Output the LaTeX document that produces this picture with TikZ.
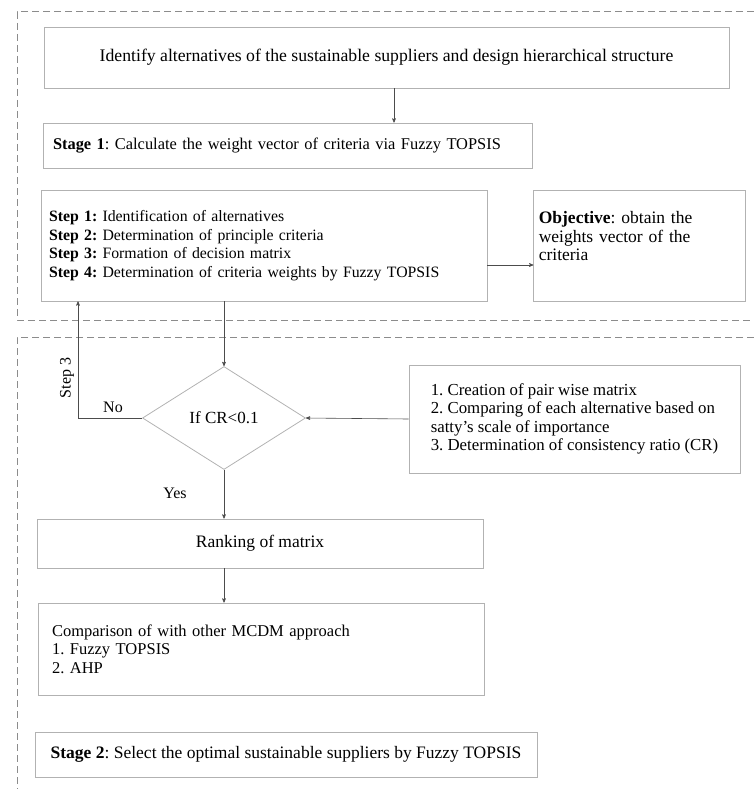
\documentclass[tikz,border=0pt]{standalone}
\usepackage{fontspec}
\setmainfont{Liberation Serif}
\frenchspacing
\usetikzlibrary{arrows,positioning,shapes.geometric}
\tikzset{
    %Define standard arrow tip
    >=stealth',
    %Define style for boxes
    stepbox/.style={
           rectangle,
           draw=black!30, line width=0.8pt,
           font=\fontsize{16}{18.5}\selectfont,
           inner ysep=0pt},
    leftbox/.style={
           stepbox,
           align=left},
    decision/.style={
           diamond,
           draw=black!30, line width=0.8pt,
           inner sep=0pt,
           font=\fontsize{17}{18.5}\selectfont},
    % Define font sizes
    large text/.style={font=\fontsize{17.7}{18.5}\selectfont},
    mid text/.style={font=\fontsize{17.5}{18.5}\selectfont},
    % Define style for the dashed stage frames
    frame/.style={
           draw=black!45, dashed,
           dash pattern=on 7pt off 4pt,
           line width=1pt},
    % Define arrow style
    pil/.style={
           ->,
           draw=black!70,
           line width=0.6pt},
    lbl/.style={
           font=\fontsize{16}{18.5}\selectfont}
}
\begin{document}
\begin{tikzpicture}[x=1pt,y=-1pt]
\useasboundingbox (0,0) rectangle (754,789);

% stage frames
\draw[frame] (754,12) -- (17,12) -- (17,320) -- (754,320);
\draw[frame] (754,337) -- (17,337) -- (17,789);

\node[stepbox, large text, minimum width=685pt, minimum height=61pt] (ident) at (386.5,57.5)
    {Identify alternatives of the sustainable suppliers and design hierarchical structure};
\node[leftbox, font=\fontsize{16.4}{18.5}\selectfont, text width=469pt, inner xsep=10pt, minimum height=45pt] (stage1) at (287.5,145.5)
    {\textbf{Stage 1}: Calculate the weight vector of criteria via Fuzzy TOPSIS};
\node[leftbox, font=\fontsize{15.8}{18.5}\selectfont, text width=430pt, inner xsep=8pt, minimum height=111pt] (steps) at (264,245.5)
    {\textbf{Step 1:} Identification of alternatives\\
     \textbf{Step 2:} Determination of principle criteria\\
     \textbf{Step 3:} Formation of decision matrix\\
     \textbf{Step 4:} Determination of criteria weights by Fuzzy TOPSIS};
\node[leftbox, mid text, text width=202pt, inner xsep=5pt, minimum height=111pt, right=46pt of steps] (objective)
    {\textbf{Objective}: obtain the\\ weights vector of the\\ criteria\\ \mbox{}};

\node[decision, minimum width=163pt, minimum height=103pt] (check) at (224,418) {If CR<0.1};
\node[leftbox, font=\fontsize{16.8}{18.5}\selectfont, minimum width=331pt, minimum height=108pt] (pairwise) at (574.5,419)
    {1. Creation of pair wise matrix\\
     2. Comparing of each alternative based on\\
     satty’s scale of importance\\
     3. Determination of consistency ratio (CR)};

\node[stepbox, mid text, minimum width=446pt, minimum height=49pt] (ranking) at (260,543.5) {Ranking of matrix};
\node[leftbox, font=\fontsize{16.5}{18.5}\selectfont, text width=418pt, inner xsep=14pt, minimum height=92pt] (compare) at (261,649)
    {Comparison of with other MCDM approach\\
     1. Fuzzy TOPSIS\\
     2. AHP};
\node[leftbox, mid text, minimum width=502pt, minimum height=45pt] (stage2) at (286,754.5)
    {\textbf{Stage 2}: Select the optimal sustainable suppliers by Fuzzy TOPSIS};

\node[lbl] (no) at (113,407) {No};
\node[lbl, rotate=90] (back) at (67,378) {Step 3};
\node[lbl] (yes) at (175,493) {Yes};
\coordinate (loop) at (78,418);

\draw[pil] ([xshift=7.5pt]ident.south) -- ([xshift=7.5pt]ident.south |- stage1.north);
\draw[pil] ([yshift=-19.5pt]steps.east) -- ([yshift=-19.5pt]steps.east -| objective.west);
\draw[pil] (check.north |- steps.south) -- (check.north);
\draw[pil] (check.west) -- (loop) -- (loop |- steps.south);
\draw[pil] (pairwise.west) -- (check.east);
\draw[pil] (check.south) -- (check.south |- ranking.north);
\draw[pil] (check.south |- ranking.south) -- (check.south |- compare.north);
\end{tikzpicture}
\end{document}
